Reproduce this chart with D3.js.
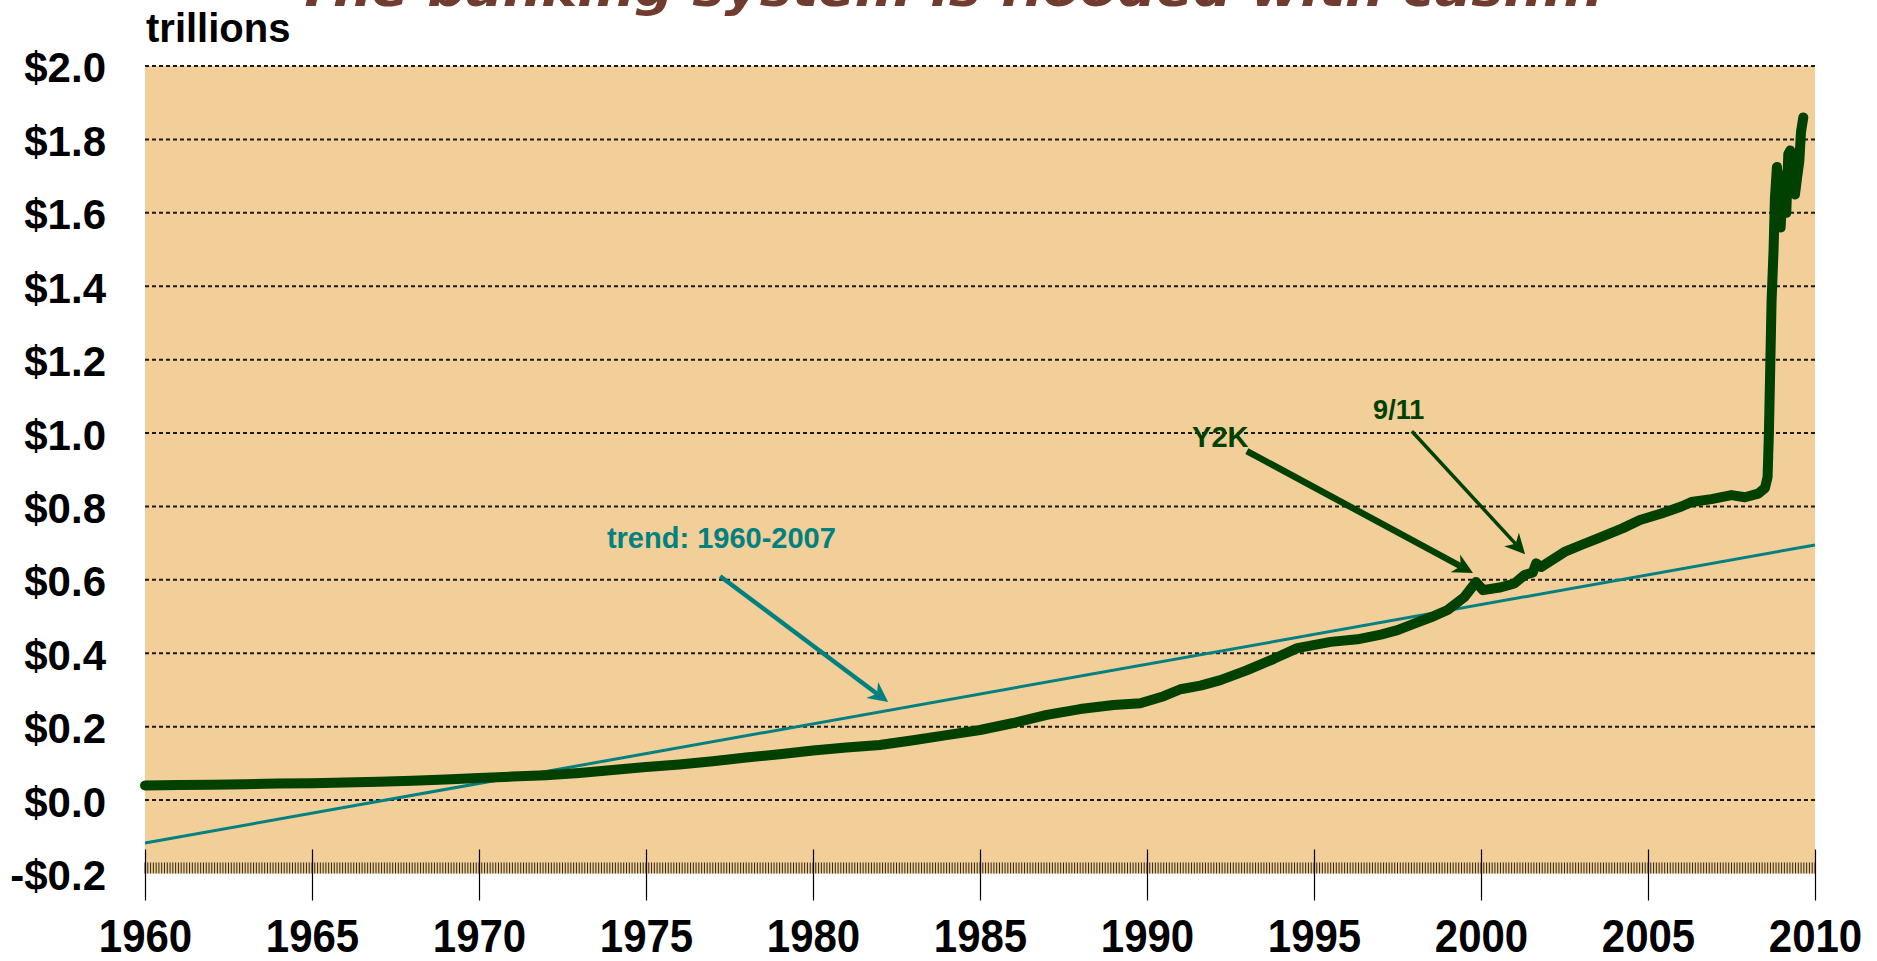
<!DOCTYPE html>
<html>
<head>
<meta charset="utf-8">
<script src="https://cdn.jsdelivr.net/npm/d3@7"></script>
<style>
  body { margin: 0; background: #ffffff; }
  svg { display: block; }
  .lbl { font-family: "Liberation Sans", Arial, sans-serif; font-weight: bold; }
</style>
</head>
<body>
<div id="chart"></div>
<script>
// ---- data (trillions of dollars) ----
const years = [
  1960.0, 1961.0, 1962.0, 1963.0, 1964.0, 1965.0, 1966.0, 1967.0, 1968.0, 1969.0,
  1970.0, 1971.0, 1972.0, 1973.0, 1974.0, 1975.0, 1976.0, 1977.0, 1978.0, 1979.0,
  1980.0, 1981.0, 1982.0, 1983.0, 1984.0, 1985.0, 1986.0, 1987.0, 1988.0, 1989.0,
  1989.8, 1990.5, 1991.0, 1991.6, 1992.2, 1993.0, 1993.8, 1994.5, 1995.5, 1996.3,
  1997.0, 1997.5, 1998.0, 1998.5, 1999.0, 1999.5, 1999.85, 2000.06, 2000.6, 2001.0,
  2001.3, 2001.55, 2001.65, 2001.8, 2002.5, 2003.0, 2003.5, 2004.25, 2004.76, 2005.4,
  2006.0, 2006.3, 2006.9, 2007.5, 2007.9, 2008.3, 2008.5, 2008.58, 2008.62, 2008.66,
  2008.70, 2008.76, 2008.80, 2008.86, 2008.92, 2008.97, 2009.02, 2009.08, 2009.14, 2009.20,
  2009.26, 2009.32, 2009.40, 2009.47, 2009.53, 2009.58, 2009.65
];
const values = [
  0.040, 0.041, 0.042, 0.043, 0.045, 0.046, 0.048, 0.050, 0.053, 0.056,
  0.060, 0.064, 0.068, 0.074, 0.082, 0.090, 0.097, 0.106, 0.116, 0.125,
  0.135, 0.143, 0.150, 0.163, 0.177, 0.191, 0.210, 0.232, 0.248, 0.259,
  0.264, 0.283, 0.302, 0.312, 0.327, 0.354, 0.385, 0.414, 0.431, 0.438,
  0.451, 0.463, 0.481, 0.498, 0.518, 0.553, 0.594, 0.572, 0.580, 0.590,
  0.613, 0.620, 0.645, 0.635, 0.676, 0.695, 0.713, 0.741, 0.763, 0.781,
  0.800, 0.812, 0.820, 0.831, 0.825, 0.835, 0.850, 0.880, 1.000, 1.180,
  1.360, 1.500, 1.640, 1.725, 1.680, 1.560, 1.640, 1.700, 1.600, 1.760,
  1.770, 1.690, 1.650, 1.700, 1.740, 1.820, 1.860
];

// linear trend fitted over 1960-2007, drawn across the whole axis
const trendYears = [1960, 2010];
const trendValues = [-0.117, 0.695];

const yTicks = [-0.2, 0.0, 0.2, 0.4, 0.6, 0.8, 1.0, 1.2, 1.4, 1.6, 1.8, 2.0];
const gridValues = [0.0, 0.2, 0.4, 0.6, 0.8, 1.0, 1.2, 1.4, 1.6, 1.8, 2.0];
const xTicks = [1960, 1965, 1970, 1975, 1980, 1985, 1990, 1995, 2000, 2005, 2010];

const titleText = "The banking system is flooded with cash...";
const unitText = "trillions";

// annotations, positioned in data units [year, value]
const noteLabels = ["trend: 1960-2007", "Y2K", "9/11"];
const noteTextAt = [[1973.83, 0.687], [1991.35, 0.962], [1996.77, 1.038]];
const noteArrowFrom = [[1977.22, 0.610], [1992.99, 0.951], [1997.93, 1.005]];
const noteArrowTo = [[1982.25, 0.267], [1999.76, 0.619], [2001.32, 0.670]];
const noteColors = ["#008080", "#004000", "#004000"];
const noteWidths = [4.5, 6.5, 3.5];
const noteFont = [29, 29, 27];

// ---- layout ----
const width = 1877, height = 961;
const margin = {top: 66, right: 62, bottom: 87.5, left: 145};

const svg = d3.select("#chart").append("svg")
    .attr("width", width)
    .attr("height", height);

const x = d3.scaleLinear()
    .domain([1960, 2010])
    .range([margin.left, width - margin.right]);

const y = d3.scaleLinear()
    .domain([-0.2, 2.0])
    .range([height - margin.bottom, margin.top]);

// plot background
svg.append("rect")
    .attr("x", x(1960))
    .attr("y", y(2.0))
    .attr("width", x(2010) - x(1960))
    .attr("height", y(-0.2) - y(2.0))
    .attr("fill", "#f2ce98");

// title (only its lower part shows at the top edge)
svg.append("text")
    .attr("x", 296)
    .attr("y", 6)
    .attr("textLength", 1308)
    .attr("lengthAdjust", "spacingAndGlyphs")
    .style("font-family", "'DejaVu Sans', Verdana, sans-serif")
    .style("font-weight", "bold")
    .style("font-style", "italic")
    .style("font-size", "50px")
    .attr("fill", "#703c2f")
    .text(titleText);

svg.append("text")
    .attr("class", "lbl")
    .attr("x", margin.left + 1)
    .attr("y", 42)
    .style("font-size", "40px")
    .attr("fill", "#000")
    .text(unitText);

// dashed gridlines
svg.append("g")
    .selectAll("line")
    .data(gridValues)
    .join("line")
    .attr("x1", x(1960))
    .attr("x2", x(2010))
    .attr("y1", d => y(d))
    .attr("y2", d => y(d))
    .attr("stroke", "#1a1a1a")
    .attr("stroke-width", 2)
    .attr("stroke-dasharray", "4,3");

// monthly minor ticks along the bottom
const months = d3.range(0, 601).map(m => 1960 + m / 12);
svg.append("g")
    .selectAll("line")
    .data(months)
    .join("line")
    .attr("x1", d => x(d))
    .attr("x2", d => x(d))
    .attr("y1", y(-0.2) - 11)
    .attr("y2", y(-0.2))
    .attr("stroke", "#2e2616")
    .attr("stroke-width", 1);

// x axis: 5-year ticks crossing the band
const xAxis = d3.axisBottom(x)
    .tickValues(xTicks)
    .tickFormat(d3.format("d"))
    .tickSize(51)
    .tickPadding(0);

const gx = svg.append("g")
    .attr("transform", `translate(0, ${y(-0.2) - 24})`)
    .call(xAxis);
gx.select(".domain").remove();
gx.selectAll(".tick line").attr("stroke", "#000").attr("stroke-width", 1.2);
gx.selectAll(".tick text")
    .attr("class", "lbl")
    .attr("y", 0)
    .attr("dy", 0)
    .attr("transform", "translate(0,102) scale(1,1.1)")
    .style("font-size", "42px")
    .attr("fill", "#000");

// y axis labels
const yAxis = d3.axisLeft(y)
    .tickValues(yTicks)
    .tickSize(0)
    .tickPadding(39)
    .tickFormat(d => (d < 0 ? "-" : "") + "$" + Math.abs(d).toFixed(1));

const gy = svg.append("g")
    .attr("transform", `translate(${margin.left}, 0)`)
    .call(yAxis);
gy.select(".domain").remove();
gy.selectAll(".tick text")
    .attr("class", "lbl")
    .attr("dy", "0.38em")
    .style("font-size", "42px")
    .attr("fill", "#000");

// trend line
svg.append("path")
    .datum(d3.zip(trendYears, trendValues))
    .attr("fill", "none")
    .attr("stroke", "#008080")
    .attr("stroke-width", 3)
    .attr("d", d3.line().x(d => x(d[0])).y(d => y(d[1])));

// series
svg.append("path")
    .datum(d3.zip(years, values))
    .attr("fill", "none")
    .attr("stroke", "#004000")
    .attr("stroke-width", 10)
    .attr("stroke-linejoin", "round")
    .attr("stroke-linecap", "round")
    .attr("d", d3.line().x(d => x(d[0])).y(d => y(d[1])));

// annotations with arrows
noteLabels.forEach((label, i) => {
    const col = noteColors[i];
    svg.append("text")
        .attr("class", "lbl")
        .attr("x", x(noteTextAt[i][0]))
        .attr("y", y(noteTextAt[i][1]))
        .style("font-size", noteFont[i] + "px")
        .attr("fill", col)
        .text(label);

    const x0 = x(noteArrowFrom[i][0]), y0 = y(noteArrowFrom[i][1]);
    const x1 = x(noteArrowTo[i][0]), y1 = y(noteArrowTo[i][1]);
    const len = Math.hypot(x1 - x0, y1 - y0);
    const ux = (x1 - x0) / len, uy = (y1 - y0) / len;
    const px = -uy, py = ux;
    const headLen = 20, headHalf = 10, notch = 14;

    svg.append("line")
        .attr("x1", x0).attr("y1", y0)
        .attr("x2", x1 - ux * notch).attr("y2", y1 - uy * notch)
        .attr("stroke", col)
        .attr("stroke-width", noteWidths[i]);

    const bx = x1 - ux * headLen, by = y1 - uy * headLen;
    const pts = [
        [x1, y1],
        [bx + px * headHalf, by + py * headHalf],
        [x1 - ux * notch, y1 - uy * notch],
        [bx - px * headHalf, by - py * headHalf]
    ];
    svg.append("polygon")
        .attr("points", pts.map(p => p.join(",")).join(" "))
        .attr("fill", col);
});
</script>
</body>
</html>
